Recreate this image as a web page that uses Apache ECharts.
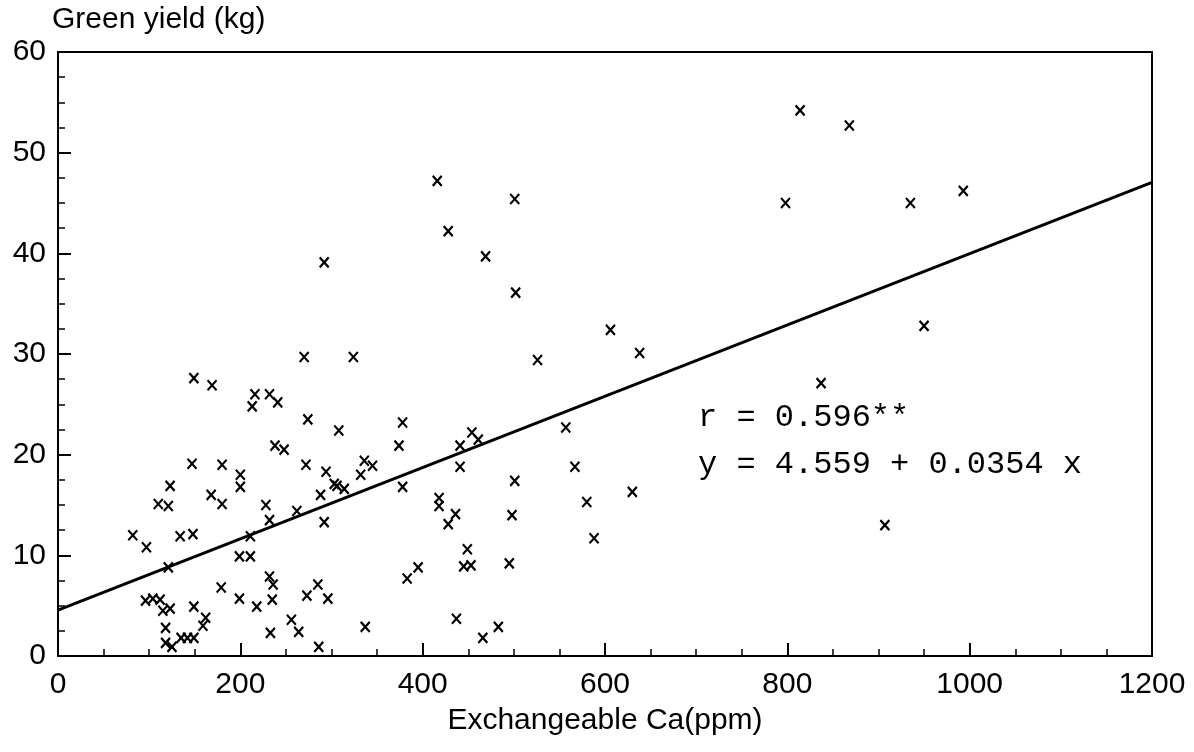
<!DOCTYPE html>
<html>
<head>
<meta charset="utf-8">
<script src="https://cdn.jsdelivr.net/npm/echarts@6/dist/echarts.min.js"></script>
<style>
html,body{margin:0;padding:0;background:#fff;}
#chart{width:1194px;height:752px;}
</style>
</head>
<body>
<div id="chart"></div>
<script>
// Exchangeable Ca (ppm) and green yield (kg)
const caPpm = [
  82, 97, 110, 121, 123, 121, 134, 148, 147, 149,
  169, 168, 180, 180, 200, 200, 216, 213, 211, 199,
  211, 179, 199, 218, 96, 104, 112, 115, 123, 149,
  118, 162, 159, 118, 125, 135, 142, 149,
  232, 241, 274, 308, 378, 374, 238, 248, 272, 294,
  336, 345, 332, 303, 306, 314, 288, 378, 228, 262,
  232, 292, 395, 383, 232, 236, 235, 285, 273, 296,
  256, 264, 233, 337, 286,
  454, 461, 441, 441, 557, 567, 501, 630, 580, 418,
  418, 436, 428, 498, 588, 449, 445, 453, 495, 437,
  466, 483,
  416, 501, 428, 469, 292, 502, 606, 638, 270, 324, 526,
  814, 868, 798, 935, 993, 950, 837, 907
];
const yieldKg = [
  12.0, 10.8, 15.1, 14.9, 16.9, 8.8, 11.9, 12.1, 19.1, 27.6,
  26.9, 16.0, 15.1, 19.0, 18.0, 16.8, 26.0, 24.8, 11.9, 9.9,
  9.9, 6.8, 5.7, 4.9, 5.5, 5.7, 5.6, 4.5, 4.7, 4.9,
  2.8, 3.8, 3.0, 1.3, 0.9, 1.8, 1.8, 1.8,
  26.0, 25.2, 23.5, 22.4, 23.2, 20.9, 20.9, 20.5, 19.0, 18.3,
  19.4, 18.9, 18.0, 17.1, 16.9, 16.6, 16.0, 16.8, 15.0, 14.4,
  13.5, 13.3, 8.8, 7.7, 7.9, 7.1, 5.6, 7.1, 6.0, 5.7,
  3.6, 2.4, 2.3, 2.9, 0.9,
  22.2, 21.5, 20.9, 18.8, 22.7, 18.8, 17.4, 16.3, 15.3, 15.7,
  14.9, 14.1, 13.1, 14.0, 11.7, 10.6, 8.9, 9.0, 9.2, 3.7,
  1.8, 2.9,
  47.2, 45.4, 42.2, 39.7, 39.1, 36.1, 32.4, 30.1, 29.7, 29.7, 29.4,
  54.2, 52.7, 45.0, 45.0, 46.2, 32.8, 27.1, 13.0
];
// Regression line end points (y = 4.559 + 0.0354 x)
const lineX = [0, 1200];
const lineY = [4.56, 47.04];
// Tick labels / texts
const xTicks = [0, 200, 400, 600, 800, 1000, 1200];
const yTicks = [0, 10, 20, 30, 40, 50, 60];
const yTitle = 'Green yield (kg)';
const xTitle = 'Exchangeable Ca(ppm)';
const rText = 'r = 0.596**';
const eqText = 'y = 4.559 + 0.0354 x';

const pts = caPpm.map((x, i) => [x, yieldKg[i]]);
const linePts = lineX.map((x, i) => [x, lineY[i]]);

const chart = echarts.init(document.getElementById('chart'), null, {renderer: 'canvas'});
const sans = 'Liberation Sans, Arial, sans-serif';
chart.setOption({
  backgroundColor: '#fff',
  animation: false,
  grid: {left: 58, right: 42, top: 52, bottom: 96, show: true, borderColor: '#000', borderWidth: 2, backgroundColor: 'transparent'},
  xAxis: {
    type: 'value', min: xTicks[0], max: xTicks[xTicks.length - 1], interval: 200,
    name: xTitle, nameLocation: 'middle', nameGap: 50,
    nameTextStyle: {fontFamily: sans, fontSize: 30, color: '#000'},
    axisLine: {show: true, lineStyle: {color: '#000', width: 2}},
    axisTick: {show: true, inside: true, length: 13, lineStyle: {color: '#000', width: 2}},
    minorTick: {show: true, splitNumber: 4, length: 7, lineStyle: {color: '#000', width: 1.5}},
    splitLine: {show: false},
    axisLabel: {fontFamily: sans, fontSize: 30, color: '#000', margin: 14,
      formatter: v => xTicks.includes(v) ? String(v) : ''}
  },
  yAxis: {
    type: 'value', min: yTicks[0], max: yTicks[yTicks.length - 1], interval: 10,
    axisLine: {show: true, lineStyle: {color: '#000', width: 2}},
    axisTick: {show: true, inside: true, length: 13, lineStyle: {color: '#000', width: 2}},
    minorTick: {show: true, splitNumber: 4, length: 7, lineStyle: {color: '#000', width: 1.5}},
    splitLine: {show: false},
    axisLabel: {fontFamily: sans, fontSize: 30, color: '#000', margin: 12,
      formatter: v => yTicks.includes(v) ? String(v) : ''}
  },
  graphic: [
    {type: 'text', left: 52, top: 5, style: {text: yTitle, font: '30px ' + sans, fill: '#000'}},
    {type: 'text', x: 698, y: 418, style: {text: rText, font: '32px Liberation Mono, monospace', fill: '#000', verticalAlign: 'middle'}},
    {type: 'text', x: 698, y: 465, style: {text: eqText, font: '32px Liberation Mono, monospace', fill: '#000', verticalAlign: 'middle'}}
  ],
  series: [
    {
      type: 'line', data: linePts, symbol: 'none', silent: true,
      lineStyle: {color: '#000', width: 3}, z: 2
    },
    {
      type: 'scatter', data: pts,
      symbol: 'path://M0,0L10,10M10,0L0,10', symbolSize: [9, 10],
      itemStyle: {color: '#000', borderColor: '#000', borderWidth: 2.2, opacity: 1},
      z: 3
    }
  ]
});
</script>
</body>
</html>
